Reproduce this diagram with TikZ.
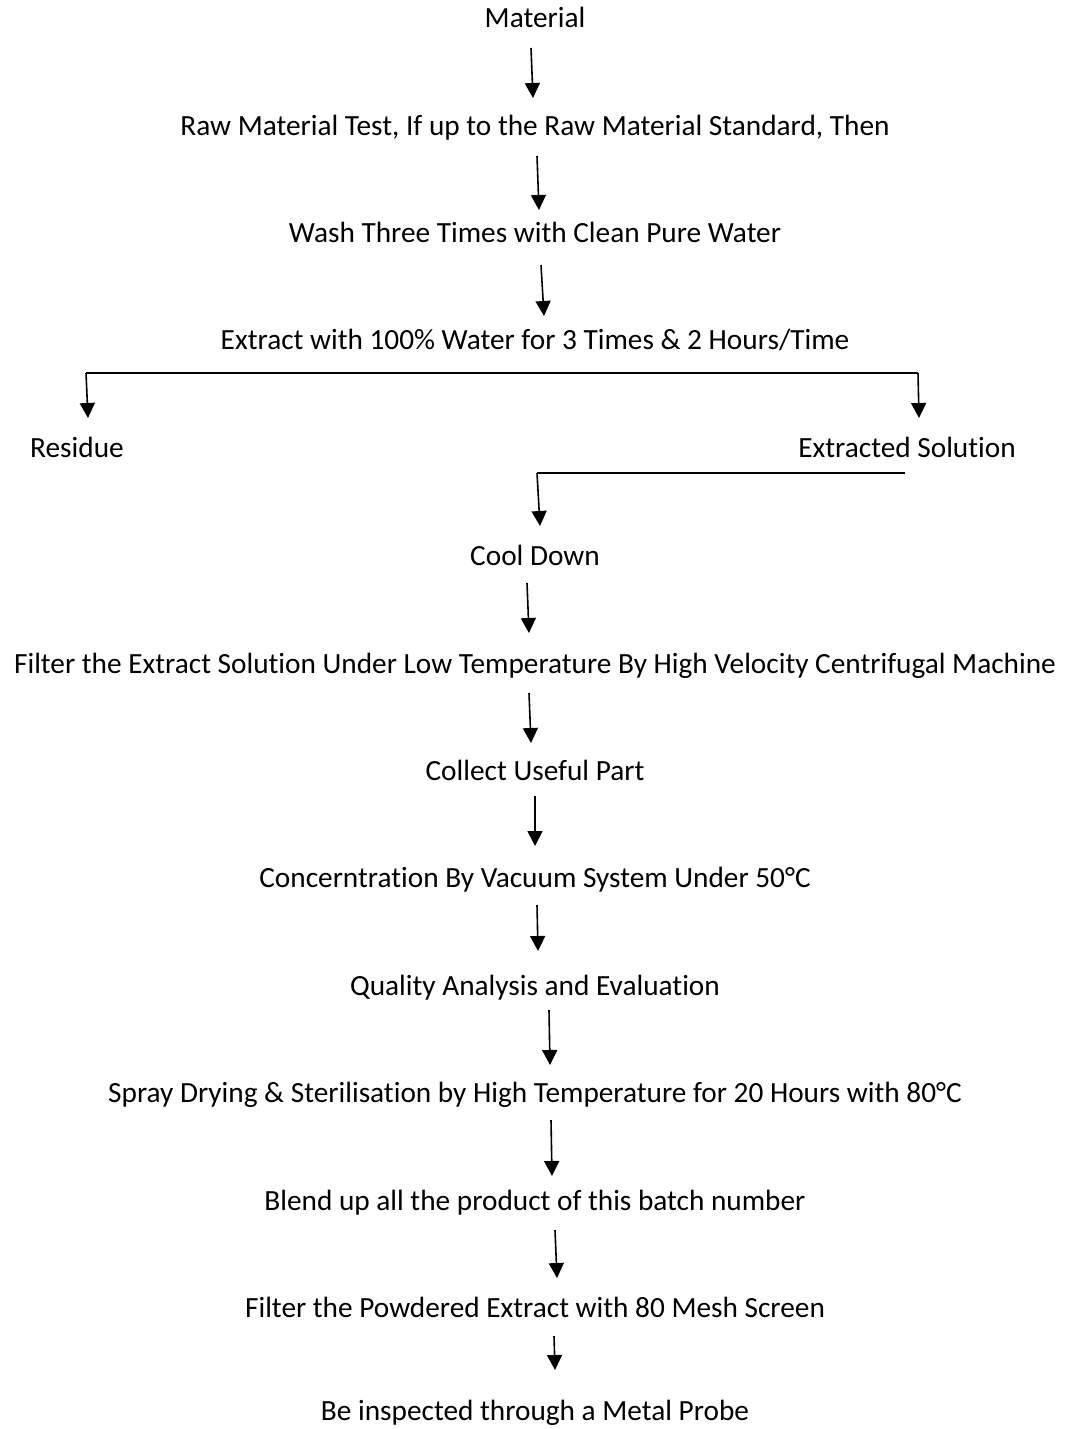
\documentclass[tikz,border=0pt]{standalone}
\usepackage{fontspec}
\setmainfont{Carlito}[Ligatures={NoCommon}, Contextuals={NoAlternate}]
\usetikzlibrary{arrows.meta}
\tikzset{
  lbl/.style={anchor=base, inner sep=0pt, font=\fontsize{29.3}{33}\selectfont},
  arr/.style={line width=1.6pt, -{Triangle[length=15pt,width=15pt]}},
  bar/.style={line width=1.6pt}
}
\begin{document}
\begin{tikzpicture}[x=1pt,y=-1pt]
\useasboundingbox[fill=white] (0,0) rectangle (1067,1429);
\node[lbl] (n1) at (535,28) {Material};
\node[lbl] (n2) at (535,135) {Raw Material Test, If up to the Raw Material Standard, Then};
\node[lbl] (n3) at (535,242) {Wash Three Times with Clean Pure Water};
\node[lbl] (n4) at (535,349) {Extract with 100\% Water for 3 Times \& 2 Hours/Time};
\node[lbl, anchor=base west] (res) at (30,457) {Residue};
\node[lbl, anchor=base east] (sol) at (1016,457) {Extracted Solution};
\node[lbl] (n5) at (535,565) {Cool Down};
\node[lbl] (n6) at (535,673) {Filter the Extract Solution Under Low Temperature By High Velocity Centrifugal Machine};
\node[lbl] (n7) at (535,780) {Collect Useful Part};
\node[lbl] (n8) at (535,887) {Concerntration By Vacuum System Under 50°C};
\node[lbl] (n9) at (535,995) {Quality Analysis and Evaluation};
\node[lbl] (n10) at (535,1102) {Spray Drying \& Sterilisation by High Temperature for 20 Hours with 80°C};
\node[lbl] (n11) at (535,1210) {Blend up all the product of this batch number};
\node[lbl] (n12) at (535,1317) {Filter the Powdered Extract with 80 Mesh Screen};
\node[lbl] (n13) at (535,1420) {Be inspected through a Metal Probe};
% arrow end points
\coordinate (a1s) at (531,48);   \coordinate (a1e) at (533,98);
\coordinate (a2s) at (537,156);  \coordinate (a2e) at (539,210);
\coordinate (a3s) at (541,265);  \coordinate (a3e) at (544,316);
\coordinate (bl) at (86,373);    \coordinate (ble) at (88,418);
\coordinate (br) at (918,373);   \coordinate (bre) at (919,418);
\coordinate (cr) at (905,473);   \coordinate (cl) at (537,473);
\coordinate (cle) at (540,526);
\coordinate (a4s) at (527,583);  \coordinate (a4e) at (529,633);
\coordinate (a5s) at (529,693);  \coordinate (a5e) at (531,743);
\coordinate (a6s) at (535,796);  \coordinate (a6e) at (535,846);
\coordinate (a7s) at (537,905);  \coordinate (a7e) at (538,951);
\coordinate (a8s) at (549,1010); \coordinate (a8e) at (550,1065);
\coordinate (a9s) at (551,1120); \coordinate (a9e) at (552,1176);
\coordinate (a10s) at (555,1230); \coordinate (a10e) at (557,1278);
\coordinate (a11s) at (554,1336); \coordinate (a11e) at (555,1370);
\draw[arr] (a1s) -- (a1e);
\draw[arr] (a2s) -- (a2e);
\draw[arr] (a3s) -- (a3e);
\draw[bar] (bl) -- (br);
\draw[arr] (bl) -- (ble);
\draw[arr] (br) -- (bre);
\draw[bar] (cr) -- (cl);
\draw[arr] (cl) -- (cle);
\draw[arr] (a4s) -- (a4e);
\draw[arr] (a5s) -- (a5e);
\draw[arr] (a6s) -- (a6e);
\draw[arr] (a7s) -- (a7e);
\draw[arr] (a8s) -- (a8e);
\draw[arr] (a9s) -- (a9e);
\draw[arr] (a10s) -- (a10e);
\draw[arr] (a11s) -- (a11e);
\end{tikzpicture}
\end{document}
